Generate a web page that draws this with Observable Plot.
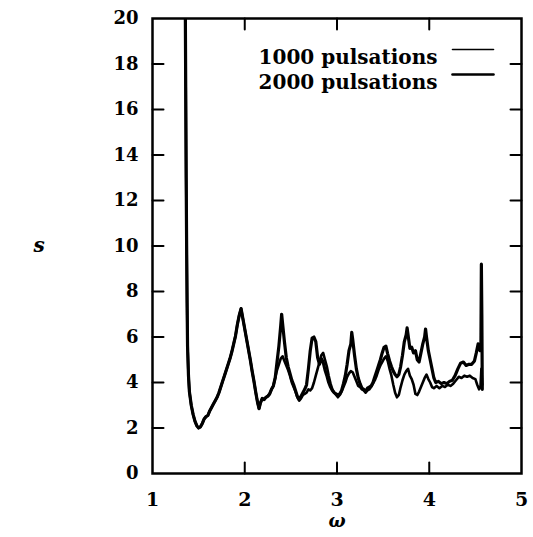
<!DOCTYPE html>
<html><head><meta charset="utf-8">
<script src="https://cdn.jsdelivr.net/npm/d3@7"></script>
<script src="https://cdn.jsdelivr.net/npm/@observablehq/plot@0.6"></script>
<style>body{margin:0;background:#fff} #chart{width:533px;height:537px}</style>
</head><body><div id="chart"></div>
<script>
// ---- data ----
const xTicks = [1, 2, 3, 4, 5];
const yTicks = [0, 2, 4, 6, 8, 10, 12, 14, 16, 18, 20];
const legendLabels = ["1000 pulsations", "2000 pulsations"];
const xLabel = "ω";
const yLabel = "s";

const omegaShared = [1.355,1.36,1.365,1.37,1.375,1.38,1.39,1.40,1.42,1.44,1.46,1.48,1.50,1.52,1.54,1.56,1.58,1.60,1.62,1.64,1.66,1.68,1.70,1.72,1.74,1.76,1.78,1.80,1.82,1.84,1.86,1.88,1.90,1.92,1.94,1.96,1.98,2.00,2.02,2.04,2.06,2.08,2.10,2.12,2.14,2.155,2.17,2.19,2.21,2.23,2.25,2.27,2.29,2.31,2.33];
const sShared = [21,17,13,10,7.5,5.6,4.3,3.6,3.0,2.6,2.3,2.1,2.0,2.05,2.2,2.4,2.5,2.55,2.75,2.9,3.05,3.2,3.35,3.55,3.8,4.05,4.3,4.55,4.8,5.05,5.35,5.7,6.05,6.55,6.95,7.25,6.8,6.35,5.9,5.45,5.0,4.5,4.05,3.55,3.1,2.85,3.1,3.3,3.25,3.35,3.4,3.5,3.7,3.85,4.2];

const omega1000 = [2.35,2.37,2.39,2.41,2.43,2.45,2.47,2.49,2.51,2.53,2.55,2.57,2.59,2.61,2.63,2.65,2.67,2.69,2.71,2.73,2.75,2.77,2.79,2.81,2.83,2.85,2.87,2.89,2.91,2.93,2.95,2.97,2.99,3.01,3.03,3.05,3.07,3.09,3.11,3.13,3.15,3.17,3.19,3.21,3.23,3.25,3.27,3.29,3.31,3.33,3.35,3.37,3.39,3.41,3.43,3.45,3.47,3.49,3.51,3.53,3.55,3.57,3.59,3.61,3.63,3.65,3.67,3.69,3.71,3.73,3.75,3.77,3.79,3.81,3.83,3.85,3.87,3.89,3.91,3.93,3.95,3.97,3.99,4.01,4.03,4.05,4.08,4.11,4.14,4.17,4.20,4.23,4.26,4.29,4.32,4.35,4.38,4.41,4.44,4.47,4.50,4.52,4.54,4.555,4.565,4.575];
const s1000 = [4.55,4.8,5.05,5.15,4.95,4.75,4.55,4.3,4.0,3.8,3.6,3.35,3.2,3.3,3.45,3.5,3.55,3.7,3.65,3.75,4.0,4.3,4.6,4.9,5.2,5.3,5.0,4.7,4.3,3.95,3.7,3.55,3.45,3.35,3.45,3.6,3.8,4.0,4.25,4.4,4.5,4.45,4.25,4.05,3.85,3.8,3.7,3.65,3.55,3.65,3.7,3.8,3.95,4.1,4.3,4.55,4.75,4.9,5.05,5.15,4.95,4.6,4.3,3.9,3.55,3.35,3.45,3.8,4.1,4.35,4.5,4.6,4.3,4.15,3.9,3.5,3.45,3.6,3.8,4.0,4.2,4.35,4.15,4.0,3.8,3.75,3.85,3.75,3.85,3.8,3.9,3.85,3.95,4.1,4.25,4.2,4.3,4.25,4.3,4.2,4.15,3.9,3.7,3.8,4.6,3.9];

const omega2000 = [2.35,2.37,2.39,2.40,2.41,2.43,2.45,2.47,2.49,2.51,2.53,2.55,2.57,2.59,2.61,2.63,2.65,2.67,2.69,2.71,2.73,2.75,2.77,2.79,2.81,2.83,2.85,2.87,2.89,2.91,2.93,2.95,2.97,2.99,3.01,3.03,3.05,3.07,3.09,3.11,3.13,3.15,3.16,3.17,3.19,3.21,3.23,3.25,3.27,3.29,3.31,3.33,3.35,3.37,3.39,3.41,3.43,3.45,3.47,3.49,3.51,3.53,3.55,3.57,3.59,3.61,3.63,3.65,3.67,3.69,3.71,3.73,3.75,3.76,3.77,3.79,3.81,3.83,3.85,3.87,3.89,3.91,3.93,3.95,3.96,3.97,3.99,4.01,4.03,4.05,4.07,4.10,4.13,4.16,4.19,4.22,4.25,4.28,4.31,4.34,4.37,4.40,4.43,4.46,4.49,4.51,4.53,4.55,4.56,4.565,4.57,4.575];
const s2000 = [4.9,5.6,6.5,7.0,6.6,5.8,5.1,4.7,4.4,4.1,3.9,3.65,3.4,3.25,3.4,3.55,3.7,3.9,4.6,5.4,5.95,6.0,5.8,5.1,4.8,5.05,4.9,4.55,4.3,4.0,3.8,3.65,3.55,3.5,3.45,3.5,3.65,3.95,4.3,4.8,5.4,5.7,6.2,5.9,5.2,4.6,4.2,3.95,3.75,3.7,3.6,3.75,3.8,3.85,4.0,4.25,4.5,4.75,5.0,5.3,5.55,5.6,5.25,4.95,4.7,4.5,4.35,4.25,4.35,4.7,5.2,5.8,6.1,6.4,6.1,5.5,5.55,5.3,5.4,5.0,4.9,5.3,5.7,6.0,6.35,6.0,5.4,5.0,4.6,4.2,4.0,4.05,3.95,4.0,3.95,4.05,4.1,4.3,4.6,4.85,4.9,4.75,4.8,4.8,4.95,5.3,5.7,5.4,5.6,9.2,7.0,3.7];

// ---- build tables ----
const series1000 = omegaShared.map((o, i) => ({omega: o, s: sShared[i]}))
  .concat(omega1000.map((o, i) => ({omega: o, s: s1000[i]})));
const series2000 = omegaShared.map((o, i) => ({omega: o, s: sShared[i]}))
  .concat(omega2000.map((o, i) => ({omega: o, s: s2000[i]})));

const font = {fontFamily: "DejaVu Serif", fontWeight: "bold", fill: "black"};
const lineTick = {draw(ctx, l) { ctx.moveTo(0, 0); ctx.lineTo(0, -l); }};
const inner = (arr) => arr.slice(1, -1);
const tickOpts = {length: 11, anchor: "start", shape: lineTick, stroke: "black", strokeWidth: 2};

const chart = Plot.plot({
  width: 533,
  height: 537,
  marginLeft: 152,
  marginRight: 12,
  marginTop: 18,
  marginBottom: 64,
  style: {background: "white", color: "black"},
  x: {domain: [1, 5], axis: null},
  y: {domain: [0, 20], axis: null},
  marks: [
    Plot.line(series1000, {x: "omega", y: "s", stroke: "black", strokeWidth: 2.6, strokeLinejoin: "round", clip: true}),
    Plot.line(series2000, {x: "omega", y: "s", stroke: "black", strokeWidth: 3.2, strokeLinejoin: "round", clip: true}),
    Plot.frame({stroke: "black", strokeWidth: 2.5}),
    // inward ticks on all sides
    Plot.vector(inner(xTicks), {x: d => d, frameAnchor: "bottom", rotate: 0, ...tickOpts}),
    Plot.vector(inner(xTicks), {x: d => d, frameAnchor: "top", rotate: 180, ...tickOpts}),
    Plot.vector(inner(yTicks), {y: d => d, frameAnchor: "left", rotate: 90, ...tickOpts}),
    Plot.vector(inner(yTicks), {y: d => d, frameAnchor: "right", rotate: 270, ...tickOpts}),
    // tick labels
    Plot.axisX(xTicks, {anchor: "bottom", tickSize: 0, tickPadding: 19, label: null, fontSize: 19, ...font}),
    Plot.axisY(yTicks, {anchor: "left", tickSize: 0, tickPadding: 14, label: null, fontSize: 18, ...font}),
    // axis labels
    Plot.text([xLabel], {frameAnchor: "bottom", dy: 53, fontSize: 18, fontStyle: "italic", ...font}),
    Plot.text([yLabel], {frameAnchor: "left", dx: -119, fontSize: 20, fontStyle: "italic", ...font}),
    // legend
    Plot.text([legendLabels[0]], {frameAnchor: "top-right", dx: -84, dy: 31, textAnchor: "end", fontSize: 20, ...font}),
    Plot.text([legendLabels[1]], {frameAnchor: "top-right", dx: -84, dy: 56, textAnchor: "end", fontSize: 20, ...font}),
    Plot.vector([0], {frameAnchor: "top-right", dx: -28, dy: 31, length: 41, rotate: 90, anchor: "end", shape: lineTick, stroke: "black", strokeWidth: 1.6}),
    Plot.vector([0], {frameAnchor: "top-right", dx: -28, dy: 56, length: 41, rotate: 90, anchor: "end", shape: lineTick, stroke: "black", strokeWidth: 2.6})
  ]
});
document.getElementById("chart").appendChild(chart);
</script>
</body></html>
